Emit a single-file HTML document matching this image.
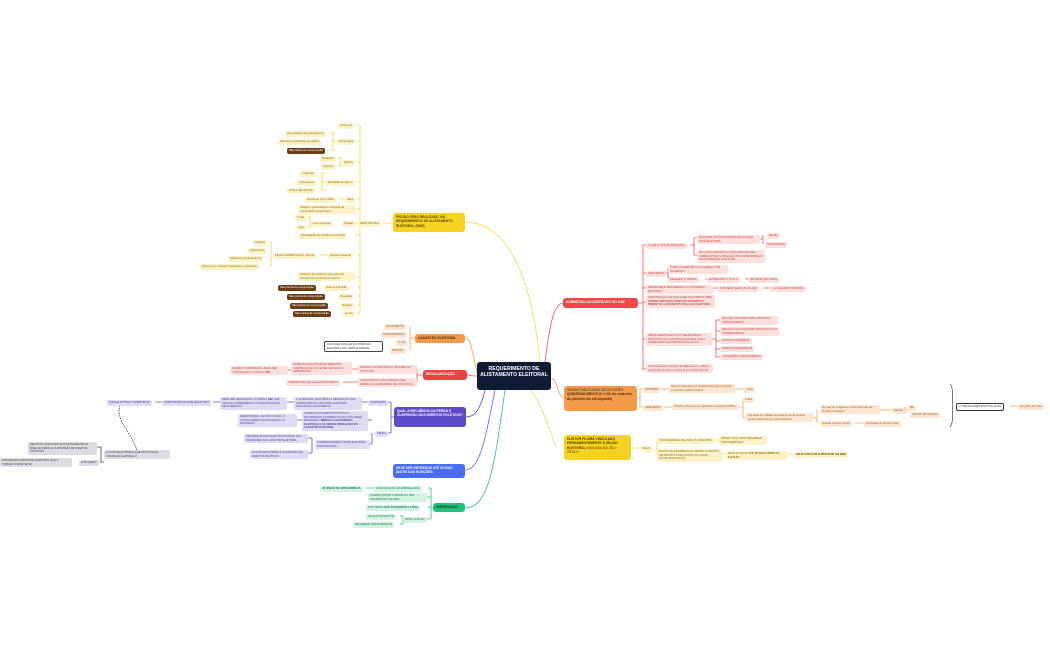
<!DOCTYPE html>
<html><head><meta charset="utf-8"><style>
body{margin:0;width:1050px;height:650px;background:#fff;position:relative;overflow:hidden;font-family:"Liberation Sans",sans-serif}
.b{position:absolute;font-size:2.6px;line-height:3.6px;padding:1px 2px;border-radius:2px;box-sizing:border-box;white-space:nowrap}
.b[style*="width"]{white-space:normal}
.y{background:#fdf2c6;color:#8a6a10}
.yd{background:#6b3d12;color:#fff}
.r{background:#fde0de;color:#c84040}
.o{background:#fde6d2;color:#9a5a20}
.p{background:#dedcf2;color:#4a3fa0}
.g{background:#d2f2e2;color:#1a7a4a}
.n{background:#dcdce4;color:#404050}
.m{position:absolute;font-size:3.3px;line-height:4.4px;padding:2px 3px;border-radius:3px;box-sizing:border-box;font-weight:bold}
svg{position:absolute;left:0;top:0}
</style></head><body>
<svg width="1050" height="650" fill="none" stroke-width="0.8">
<g stroke="#f5d84a">
<path d="M540 362 C530 260 500 222 465 222"/>
<path d="M393 223 H383 M358 223 H355"/>
<path d="M360 125 V313"/>
<path d="M355 125H360M357 141H360M357 162H360M357 182H360M357 199H360M355 209H360M357 223H360M355 235H360M357 255H360M355 277H360M357 287H360M357 296H360M357 305H360M357 313H360"/>
<path d="M330 133 H335 M330 141H337 M330 150H335 M333 133 V150"/>
<path d="M338 158 H342 M338 166H342 M340 158V166"/>
<path d="M320 173H326M320 182H326M320 190H326M322 173V190"/>
<path d="M340 199H345M308 217H311M308 227H311M310 217V227M320 255H328M270 242H272M270 266H272M271 242V266"/>
<path d="M556 447 C550 430 540 400 530 390"/>
<path d="M631 448H640M656 448H657M657 440V455"/>
<path d="M715 440H719M722 454H726M788 454H794"/>
</g>
<g stroke="#f25050">
<path d="M545 362 C550 320 555 303 563 303"/>
<path d="M638 303H643M643 245V370"/>
<path d="M643 245H646M643 273H646M643 288H646M643 302H646M643 339H646M643 369H646"/>
<path d="M690 245H694M694 238V255M694 238H697M694 255H697M760 239H763M763 235V244"/>
<path d="M666 273H668M668 268V279M705 279H707M745 279H748M713 288H718M763 288H770"/>
<path d="M712 339H716M716 320V357M716 320H720M716 331H720M716 341H720M716 349H720M716 357H720"/>
<path d="M477 376 C470 376 470 375 467 375M423 375H417M417 369V382M352 369H358M288 370H291M343 382H358"/>
</g>
<g stroke="#f5a050">
<path d="M551 378 C558 380 558 398 564 398"/>
<path d="M637 398H640M640 389V407M640 389H643M640 407H643M660 389H669M735 389H744M664 407H672M739 407H743M743 399V418M743 418H746M813 418H817M817 409V423M880 410H892M912 410H905M905 407V414M855 423H864"/>
<path d="M477 372 C470 340 470 338 465 338M415 338H410M410 326V350"/>
<path d="M950 384 C955 390 951 403 953 405 C951 407 955 420 950 427" stroke="#555"/>
<path d="M1010 406H1018"/>
</g>
<g stroke="#5b4bc4">
<path d="M485 390 C480 410 475 417 466 417M394 417H391M391 402V433M388 402H391M388 433H391M362 402H368M287 402H294M213 402H220M155 402H162M368 420H372M297 420H302M308 438H312M308 453H312M312 438V453M370 444H372M372 433V444"/>
<path d="M137 450 C130 430 115 420 120 405" stroke-dasharray="1.5,1" stroke="#444"/>
<path d="M100 462H104M97 447H101M101 447V462" stroke="#444"/>
</g>
<path d="M495 390 C485 440 480 470 465 470" stroke="#4a6cf0"/>
<g stroke="#2cc07a">
<path d="M505 390 C495 460 490 508 465 508M433 508H431M431 488V519M428 488H431M427 497H431M428 507H431M427 519H431M366 488H374M400 516H403M400 524H403M403 516V524"/>
</g>
</svg>

<div class="m" style="left:477px;top:362px;width:74px;height:28px;background:#0f1a36;color:#fff;text-align:center;font-size:5.2px;line-height:6px;padding-top:4px">REQUERIMENTO DE ALISTAMENTO ELEITORAL</div>

<div class="m" style="left:393px;top:213px;width:72px;height:19px;background:#f5d320;color:#5a4400">PEDIDO SERÁ REALIZADO VIA REQUERIMENTO DE ALISTAMENTO ELEITORAL (RAE)</div>
<div class="b y" style="left:358px;top:221px">DEVE CONTER</div>
<div class="b y" style="left:338px;top:123px">Nome civil</div>
<div class="b y" style="left:337px;top:139px">Nome social</div>
<div class="b y" style="left:285px;top:131px">Uso exclusivo dos transgêneros</div>
<div class="b y" style="left:278px;top:139px">Não fazem certificação do registro</div>
<div class="b yd" style="left:287px;top:148px">Não precisa de comprovação</div>
<div class="b y" style="left:342px;top:160px">Gênero</div>
<div class="b y" style="left:320px;top:156px">Masculino</div>
<div class="b y" style="left:321px;top:164px">Feminino</div>
<div class="b y" style="left:326px;top:180px">Identidade de gênero</div>
<div class="b y" style="left:300px;top:171px">Cisgênero</div>
<div class="b y" style="left:297px;top:180px">Transgênero</div>
<div class="b y" style="left:287px;top:188px">Prefere não informar</div>
<div class="b y" style="left:345px;top:197px">Raça</div>
<div class="b y" style="left:305px;top:197px">De acordo com o IBGE</div>
<div class="b y" style="left:298px;top:205px;width:57px">Indígena, Quilombola ou integrante de comunidade remanescente</div>
<div class="b y" style="left:342px;top:221px">Filiação</div>
<div class="b y" style="left:311px;top:221px">Com 4 campos</div>
<div class="b y" style="left:295px;top:215px">2 mãe</div>
<div class="b y" style="left:296px;top:225px">2 pai</div>
<div class="b y" style="left:299px;top:233px">Possibilidade de identificar como PCD</div>
<div class="b y" style="left:328px;top:253px">Domicílio Eleitoral</div>
<div class="b y" style="left:273px;top:253px">EXIGE COMPROVAÇÃO, SALVO</div>
<div class="b y" style="left:253px;top:240px">Indígena</div>
<div class="b y" style="left:248px;top:248px">Quilombolas</div>
<div class="b y" style="left:228px;top:256px">Pessoa em situação de rua</div>
<div class="b y" style="left:200px;top:264px">Pessoa com endereço provisório ou cadastrado</div>
<div class="b y" style="left:298px;top:272px;width:57px">Endereço de residência que pode não corresponder ao domicílio eleitoral</div>
<div class="b y" style="left:324px;top:285px">Grau de instrução</div>
<div class="b yd" style="left:278px;top:285px">Não precisa de comprovação</div>
<div class="b y" style="left:338px;top:294px">Ocupação</div>
<div class="b yd" style="left:287px;top:294px">Não precisa de comprovação</div>
<div class="b y" style="left:340px;top:303px">Telefone</div>
<div class="b yd" style="left:290px;top:303px">Não precisa de comprovação</div>
<div class="b y" style="left:343px;top:311px">E-mail</div>
<div class="b yd" style="left:293px;top:311px">Não precisa de comprovação</div>

<div class="m" style="left:563px;top:298px;width:75px;height:10px;background:#f04848;color:#fff">SUBMETIDO AO DESPACHO DO JUIZ</div>
<div class="b r" style="left:646px;top:243px">O QUE O JUIZ VAI ANALISAR?</div>
<div class="b r" style="left:697px;top:235px;width:63px">SE EXISTE OUTRA INSCRIÇÃO EM ALGUMA ZONA ELEITORAL</div>
<div class="b r" style="left:767px;top:233px">NO DIA</div>
<div class="b r" style="left:765px;top:242px">NO ANTERIOR</div>
<div class="b r" style="left:697px;top:250px;width:68px">SE A ÚNICA INSCRIÇÃO LOCALIZADA EM SEU NOME ESTIVER CANCELADA POR DETERMINAÇÃO DE AUTORIDADE JUDICIÁRIA</div>
<div class="b r" style="left:646px;top:271px">INDEFERIDO</div>
<div class="b r" style="left:668px;top:265px;width:60px">PODE CONVERTER O JULGAMENTO EM DILIGÊNCIA</div>
<div class="b r" style="left:668px;top:277px">DEFERIDO O PEDIDO</div>
<div class="b r" style="left:707px;top:277px">ENTREGARÁ O TÍTULO</div>
<div class="b r" style="left:748px;top:277px">NO PRAZO DE 3 DIAS</div>
<div class="b r" style="left:646px;top:285px;width:67px">RECIBO DEVE SER ANEXADO AO PROCESSO ELEITORAL</div>
<div class="b r" style="left:718px;top:286px">SOB PENA DE MULTA AO JUIZ</div>
<div class="b r" style="left:770px;top:286px">1 A 5 SALÁRIOS MÍNIMOS</div>
<div class="b r" style="left:646px;top:295px;width:69px">A RESTITUIÇÃO DE QUALQUER DOCUMENTO <b>NÃO PODERÁ SER FEITA ANTES DE DEFERIDO O PEDIDO DE ALISTAMENTO PELO JUIZ ELEITORAL</b></div>
<div class="b r" style="left:646px;top:333px;width:66px">SERÃO REGISTRADAS NO TSE EM BANCO RELATÓRIO NO CARTÓRIO ELEITORAL QUE O FORNECERÁ AOS PARTIDOS POLÍTICOS</div>
<div class="b r" style="left:720px;top:316px;width:58px">RELAÇÃO DOS ELEITORES INSCRITOS ORIGINALMENTE</div>
<div class="b r" style="left:720px;top:327px;width:60px">RELAÇÃO DOS ELEITORES INSCRITOS POR TRANSFERÊNCIA</div>
<div class="b r" style="left:720px;top:338px">PEDIDOS DEFERIDOS</div>
<div class="b r" style="left:720px;top:346px">PEDIDOS INDEFERIDOS</div>
<div class="b r" style="left:720px;top:354px">CONVERTIDOS EM DILIGÊNCIA</div>
<div class="b r" style="left:646px;top:364px;width:67px">Pode determinar a adoção de diligências ou notificar o requerente para que compareça ao cartório eleitoral</div>

<div class="m" style="left:564px;top:386px;width:73px;height:25px;background:#f39a48;color:#4a2a10;font-weight:normal">SERÃO PUBLICADAS AS DECISÕES <b>QUINZENALMENTE (1º e 15º de cada mês, ou primeiro dia útil seguinte)</b></div>
<div class="b o" style="left:643px;top:387px">DEFERIDO</div>
<div class="b o" style="left:669px;top:384px;width:66px">Recurso interposto por qualquer delegado de partido e ministério público eleitoral</div>
<div class="b o" style="left:744px;top:387px">3 dias</div>
<div class="b o" style="left:643px;top:405px">INDEFERIDO</div>
<div class="b o" style="left:672px;top:404px;width:67px">Recurso interposto pelo alistando e ministério público</div>
<div class="b o" style="left:743px;top:397px">3 dias</div>
<div class="b o" style="left:746px;top:413px;width:67px">Intimação do cidadão será feita de forma pessoal, preferencialmente por meio eletrônico</div>
<div class="b o" style="left:820px;top:405px;width:60px">No caso do indígena ou quilombola que não fornecer o telefone?</div>
<div class="b o" style="left:820px;top:421px">Quando será por edital?</div>
<div class="b o" style="left:864px;top:421px">Frustrados os demais meios</div>
<div class="b o" style="left:892px;top:408px">Sessão</div>
<div class="b o" style="left:908px;top:405px">MP</div>
<div class="b o" style="left:910px;top:412px">OFICIAL DE JUSTIÇA</div>
<div class="b" style="left:956px;top:403px;border:0.7px solid #333;color:#333;background:#fff">O TSE AGUARDA ENVIO DE LOGS</div>
<div class="b o" style="left:1018px;top:404px">Em prazo de 5 dias</div>

<div class="m" style="left:564px;top:435px;width:67px;height:25px;background:#f5d320;color:#4a3a00">ELEITOR FICARÁ VINCULADO PERMANENTEMENTE À SEÇÃO ELEITORAL <span style="font-weight:normal">INDICADA NO SEU TÍTULO</span></div>
<div class="b y" style="left:640px;top:446px">SALVO</div>
<div class="b y" style="left:657px;top:438px">TRANSFERÊNCIA DE ZONA OU MUNICÍPIO</div>
<div class="b y" style="left:719px;top:436px;width:48px">NESSE CASO, DEVE REQUERER TRANSFERÊNCIA</div>
<div class="b y" style="left:657px;top:449px;width:65px">MUDOU DE RESIDÊNCIA NO MESMO MUNICÍPIO, UM DISTRITO PARA OUTRO OU LUGAR DISTANTE DA SEÇÃO</div>
<div class="b y" style="left:726px;top:451px;width:62px">DEVE FICAR AO <b>ATÉ 150 DIAS ANTES DA ELEIÇÃO</b></div>
<div class="b y" style="left:794px;top:452px;color:#5a4400;font-weight:bold">LEI Nº 9.504 FIXA O PRAZO DE 150 DIAS</div>

<div class="m" style="left:415px;top:334px;width:50px;height:9px;background:#f39a48;color:#4a2a10;white-space:nowrap">CADASTRO ELEITORAL</div>
<div class="b o" style="left:384px;top:324px">ALISTAMENTO</div>
<div class="b o" style="left:381px;top:332px">TRANSFERÊNCIA</div>
<div class="b o" style="left:396px;top:340px">2ª VIA</div>
<div class="b o" style="left:390px;top:348px">REVISÃO</div>
<div class="b" style="left:324px;top:341px;width:59px;border:0.7px solid #444;color:#333;background:#fff">A DATA DE FIXAÇÃO DO DOMICÍLIO ELEITORAL NÃO SERÁ ALTERADA</div>

<div class="m" style="left:423px;top:370px;width:44px;height:10px;background:#f04040;color:#fff">REGULARIZAÇÃO</div>
<div class="b r" style="left:358px;top:365px;width:59px">PESSOA COM RESTRIÇÃO DE DIREITOS POLÍTICOS</div>
<div class="b r" style="left:291px;top:362px;width:61px">SOMENTE SERÁ POSSÍVEL MEDIANTE COMPROVAÇÃO DE HAVER CESSADO O IMPEDIMENTO</div>
<div class="b r" style="left:230px;top:366px;width:58px">QUANDO COMPROVADA, DEVE SER COMUNICADO O CÓDIGO <b>ASE</b></div>
<div class="b r" style="left:358px;top:378px;width:59px">COINCIDÊNCIA COM A PESSOA QUE PERDEU OU SUSPENDEU DIR. POLÍTICOS</div>
<div class="b r" style="left:286px;top:380px">COMPROVAR QUE É ELEITOR DIVERSO</div>

<div class="m" style="left:394px;top:407px;width:72px;height:20px;background:#5b4bc4;color:#fff">QUAL A INFLUÊNCIA DA PERDA E SUSPENSÃO DOS DIREITOS POLÍTICOS?</div>
<div class="b p" style="left:368px;top:400px">SUSPENSÃO</div>
<div class="b p" style="left:294px;top:397px;width:68px">A SUSPENSÃO NÃO OBSTA A REALIZAÇÃO DAS OPERAÇÕES DO CADASTRO ELEITORAL, INCLUSIVE O ALISTAMENTO</div>
<div class="b p" style="left:220px;top:397px;width:67px">DEVE SER REGISTRADO O CÓDIGO <b>ASE</b> QUE INDIQUE O IMPEDIMENTO AO EXERCÍCIO DOS SEUS DIREITOS</div>
<div class="b p" style="left:162px;top:400px">QUEM PROMOVE ESSE REGISTRO?</div>
<div class="b p" style="left:107px;top:400px">ZONA ELEITORAL COMPETENTE</div>
<div class="b p" style="left:375px;top:431px">PERDA</div>
<div class="b p" style="left:302px;top:411px;width:66px">A PERDA DOS DIREITOS POLÍTICOS, DECORRENTE DA PERDA DA NACIONALIDADE BRASILEIRA, <b>IMPEDE O ALISTAMENTO ELEITORAL E AS DEMAIS OPERAÇÕES DO CADASTRO ELEITORAL</b></div>
<div class="b p" style="left:238px;top:414px;width:59px">REGISTRANDO, SE FOR O CASO, O CANCELAMENTO DA INSCRIÇÃO JÁ EXISTENTE</div>
<div class="b p" style="left:315px;top:440px;width:55px">CORRESPONDERÁ À BASE ELEITORAL PROVISIONADA</div>
<div class="b p" style="left:244px;top:434px;width:64px">PROVERÁ ATUALIZAÇÃO DA SITUAÇÃO DAS INSCRIÇÕES NO CADASTRO ELEITORAL</div>
<div class="b p" style="left:250px;top:450px;width:58px">E NA BASE DA PERDA E SUSPENSÃO DE DIREITOS POLÍTICOS</div>
<div class="b n" style="left:104px;top:450px;width:66px">E CASO SEJA PESSOA QUE NÃO POSSUA INSCRIÇÃO ELEITORAL?</div>
<div class="b n" style="left:79px;top:460px">POR QUEM?</div>
<div class="b n" style="left:28px;top:442px;width:69px">REGISTRO SERÁ FEITO EXCLUSIVAMENTE NA BASE DE PERDA E SUSPENSÃO DE DIREITOS POLÍTICOS</div>
<div class="b n" style="left:0px;top:458px;width:72px">PROCEDERÁ A REGIONAL ELEITORAL QUE O TORNAR COMPETENTE</div>

<div class="m" style="left:393px;top:464px;width:72px;height:14px;background:#4a6cf0;color:#fff">DEVE SER ENTREGUE ATÉ 30 DIAS ANTES DAS ELEIÇÕES</div>

<div class="m" style="left:433px;top:503px;width:32px;height:9px;background:#22c07a;color:#0a3a20">EMPREGADO</div>
<div class="b g" style="left:374px;top:486px">COMUNICAÇÃO AO EMPREGADOR</div>
<div class="b g" style="left:320px;top:486px;font-weight:bold">48 HORAS DE ANTECEDÊNCIA</div>
<div class="b g" style="left:368px;top:493px;width:59px">PODERÁ DEIXAR O EMPREGO SEM PREJUÍZO DO SALÁRIO</div>
<div class="b g" style="left:366px;top:505px">POR TEMPO <b>NÃO EXCEDENTE A 2 DIAS</b></div>
<div class="b g" style="left:403px;top:517px">PARA O FIM DE:</div>
<div class="b g" style="left:366px;top:514px">SE ALISTAR ELEITOR</div>
<div class="b g" style="left:353px;top:522px">REQUERER TRANSFERÊNCIA</div>
</body></html>
